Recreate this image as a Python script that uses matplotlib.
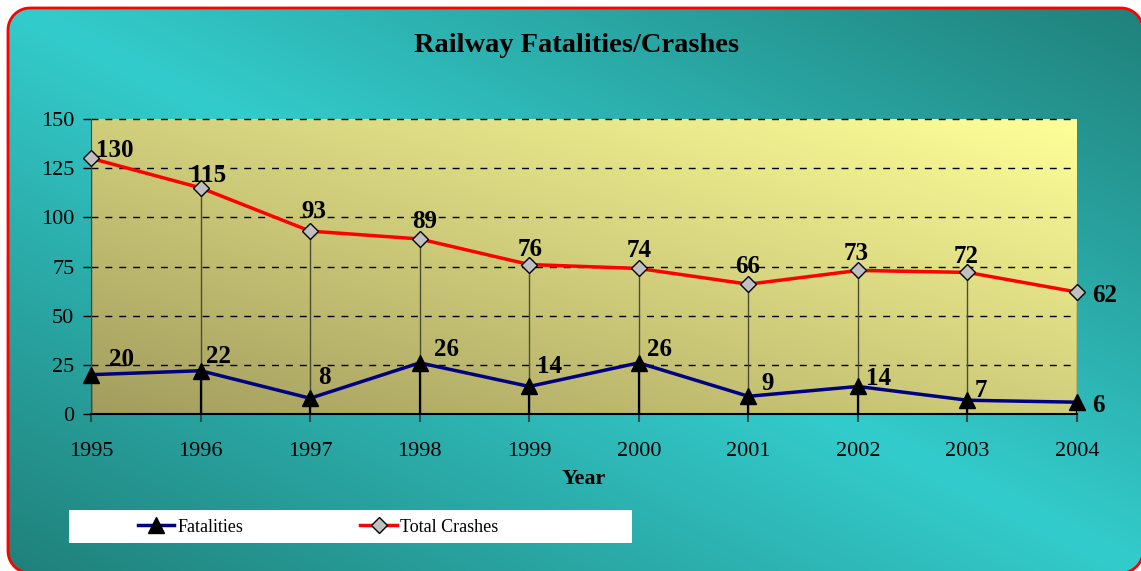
import numpy as np
import matplotlib.pyplot as plt
from matplotlib.patches import Polygon, Rectangle
from matplotlib.colors import LinearSegmentedColormap
from matplotlib.lines import Line2D

# Data
years = [1995, 1996, 1997, 1998, 1999, 2000, 2001, 2002, 2003, 2004]
fatalities = [20, 22, 8, 26, 14, 26, 9, 14, 7, 6]
crashes = [130, 115, 93, 89, 76, 74, 66, 73, 72, 62]
y_ticks = [0, 25, 50, 75, 100, 125, 150]

# label offsets (pixels, dx / dy up) of the label centre from the point
fat_offsets = [(30, 15), (18, 14), (14, 21), (27, 13), (20, 20), (21, 13), (19, 13), (21, 8), (13, 10), (21, -3)]
crash_offsets = [(24, 8), (8, 12), (4, 20), (5, 17), (1, 15), (0, 18), (-1, 18), (-2, 17), (-1, 16), (28, -3)]

plt.rcParams['font.family'] = ['Liberation Serif', 'DejaVu Serif']

W, H = 1141, 571
fig = plt.figure(figsize=(W / 100, H / 100), dpi=100)
fig.patch.set_facecolor('white')


def rounded_rect(x0, y0, x1, y1, r, n=20):
    pts = []
    for cx, cy, a0 in [(x1 - r, y1 - r, 0), (x0 + r, y1 - r, 90),
                       (x0 + r, y0 + r, 180), (x1 - r, y0 + r, 270)]:
        a = np.radians(np.linspace(a0, a0 + 90, n))
        pts += list(zip(cx + r * np.cos(a), cy + r * np.sin(a)))
    return np.array(pts)


# background with rounded red border (pixel coordinates, y up)
bg = fig.add_axes([0, 0, 1, 1], zorder=-5)
bg.axis('off')
u, v = np.meshgrid(np.linspace(0, 1, 300), np.linspace(0, 1, 150))
t = np.abs(u - v)
light = np.array([51, 204, 204]) / 255
dark = np.array([32, 128, 122]) / 255
img = light[None, None, :] * (1 - t[..., None]) + dark[None, None, :] * t[..., None]
im = bg.imshow(img, extent=[0, W, 0, H], origin='upper', aspect='auto', interpolation='bilinear')
border = Polygon(rounded_rect(8, -2, W + 2, H - 8, 22), closed=True,
                 facecolor='none', edgecolor='red', linewidth=2)
bg.add_patch(border)
im.set_clip_path(border)
bg.set_xlim(0, W)
bg.set_ylim(0, H)

# plot area
ax = fig.add_axes([91 / W, 1 - 414 / H, (1077 - 91) / W, (414 - 119) / H])
pa = np.linspace(0, 1, 200)
pu, pv = np.meshgrid(pa, pa[::-1])
pcm = LinearSegmentedColormap.from_list('pa', ['#a29d5e', '#ffff99'])
ax.imshow((pu * 0.5 + pv * 0.5), extent=[0, 1, 0, 1], transform=ax.transAxes,
          cmap=pcm, aspect='auto', zorder=0, interpolation='bilinear')
ax.set_xlim(years[0], years[-1])
ax.set_ylim(0, 150)

for yy in y_ticks[1:]:
    ax.axhline(yy, color='black', lw=1, ls=(0, (5, 5)), zorder=1, clip_on=False)

# drop lines
ax.vlines(years, 0, crashes, color='#4d4d35', lw=1, zorder=2)
ax.vlines(years, 0, fatalities, color='black', lw=1.6, zorder=2)

ax.plot(years, crashes, color='red', lw=2.5, marker='D', markersize=8,
        markerfacecolor='#c0c0c0', markeredgecolor='black', markeredgewidth=1,
        zorder=4, clip_on=False)
ax.plot(years, fatalities, color='#000080', lw=2.5, marker='^', markersize=12,
        markerfacecolor='black', markeredgecolor='black', zorder=4, clip_on=False)

for x, y, (dx, dy) in zip(years, crashes, crash_offsets):
    ax.annotate(str(y), (x, y), xytext=(dx, dy), textcoords='offset pixels',
                ha='center', va='center', fontsize=18, fontweight='bold', zorder=6,
                annotation_clip=False)
for x, y, (dx, dy) in zip(years, fatalities, fat_offsets):
    ax.annotate(str(y), (x, y), xytext=(dx, dy), textcoords='offset pixels',
                ha='center', va='center', fontsize=18, fontweight='bold', zorder=6,
                annotation_clip=False)

ax.set_xticks(years)
ax.set_xticklabels([str(y) for y in years])
ax.set_yticks(y_ticks)
ax.tick_params(axis='x', length=6, width=1.5, color='#2f4a48', labelsize=16, pad=14)
ax.tick_params(axis='y', length=6, width=1, color='black', labelsize=16, pad=6)
for s in ['top', 'right']:
    ax.spines[s].set_visible(False)
ax.spines['left'].set_color('#3c4c40')
ax.spines['bottom'].set_color('black')
ax.spines['bottom'].set_linewidth(1.5)
ax.set_xlabel('Year', fontsize=16, fontweight='bold', labelpad=6)

fig.text(577 / W, 1 - 45 / H, 'Railway Fatalities/Crashes', ha='center', va='center',
         fontsize=20.5, fontweight='bold')

# legend
fig.patches.append(Rectangle((69 / W, 1 - 543 / H), (632 - 69) / W, 33 / H,
                             transform=fig.transFigure, facecolor='white', edgecolor='none', zorder=1))
handles = [Line2D([], [], color='#000080', lw=2.5, marker='^', markersize=11,
                  markerfacecolor='black', markeredgecolor='black'),
           Line2D([], [], color='red', lw=2.5, marker='D', markersize=8,
                  markerfacecolor='#c0c0c0', markeredgecolor='black')]
fig.legend(handles, ['Fatalities', 'Total Crashes'], loc='center',
           bbox_to_anchor=(318 / W, 1 - 527 / H), ncol=2, frameon=False,
           fontsize=13, handlelength=2.0, handletextpad=0.2, columnspacing=6.5)

fig.savefig('out.png', dpi=100)
